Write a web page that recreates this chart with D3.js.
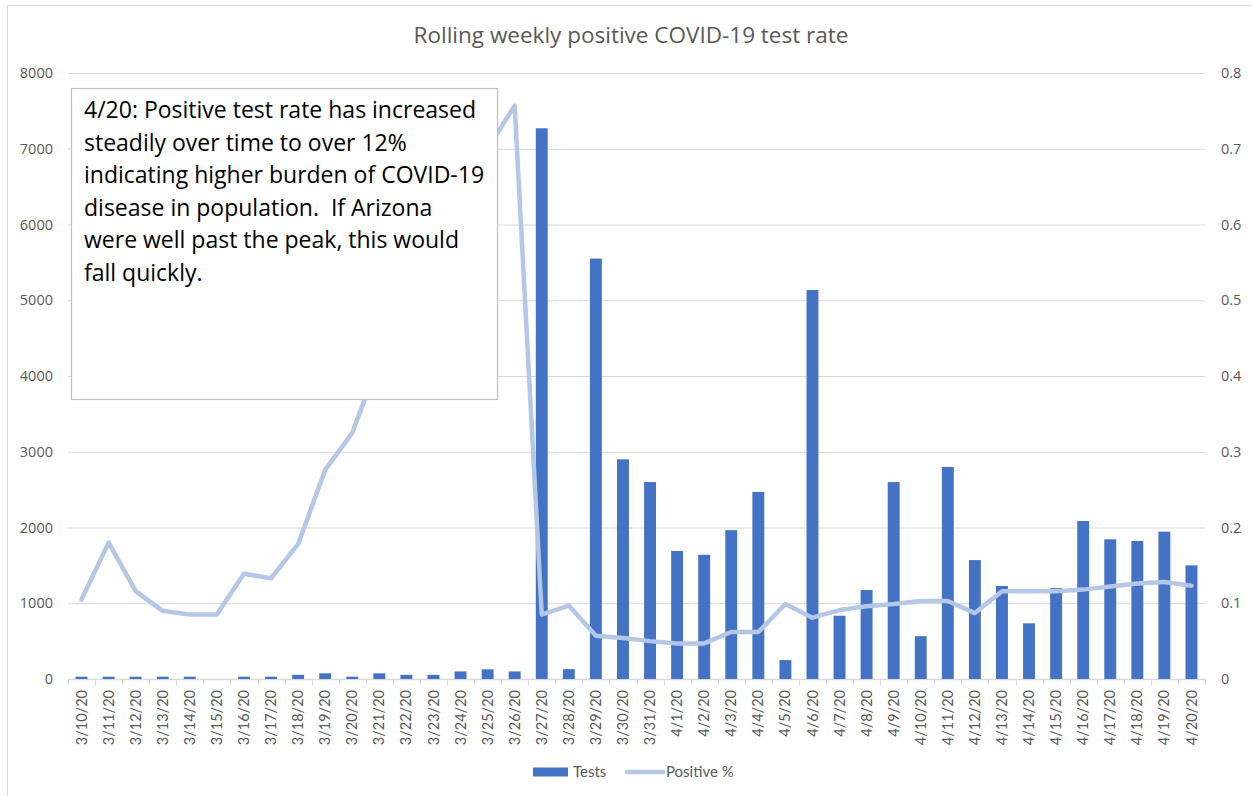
<!DOCTYPE html>
<html>
<head>
<meta charset="utf-8">
<script src="https://cdn.jsdelivr.net/npm/d3@7"></script>
<style>
  html, body { margin: 0; padding: 0; background: #fff; }
  svg { display: block; }
  text { font-family: Lato, "Open Sans", sans-serif; }
</style>
</head>
<body>
<svg id="chart" width="1252" height="796"></svg>
<script>
// Daily test counts and rolling weekly positive rate, Arizona, 3/10/20 – 4/20/20
const dates = [
  "3/10/20","3/11/20","3/12/20","3/13/20","3/14/20","3/15/20","3/16/20","3/17/20",
  "3/18/20","3/19/20","3/20/20","3/21/20","3/22/20","3/23/20","3/24/20","3/25/20",
  "3/26/20","3/27/20","3/28/20","3/29/20","3/30/20","3/31/20","4/1/20","4/2/20",
  "4/3/20","4/4/20","4/5/20","4/6/20","4/7/20","4/8/20","4/9/20","4/10/20",
  "4/11/20","4/12/20","4/13/20","4/14/20","4/15/20","4/16/20","4/17/20","4/18/20",
  "4/19/20","4/20/20"
];
const tests = [
  30, 30, 30, 30, 30, 0, 30, 30,
  55, 75, 30, 75, 55, 55, 100, 128,
  100, 7270, 130, 5550, 2900, 2600, 1690, 1640,
  1965, 2470, 250, 5135, 835, 1175, 2600, 565,
  2800, 1570, 1228, 735, 1200, 2086, 1844, 1822,
  1945, 1500
];
const positiveRate = [
  0.105, 0.180, 0.116, 0.090, 0.085, 0.085, 0.139, 0.133,
  0.178, 0.276, 0.325, 0.420, 0.500, 0.580, 0.640, 0.700,
  0.757, 0.085, 0.097, 0.057, 0.054, 0.050, 0.047, 0.047,
  0.062, 0.062, 0.099, 0.081, 0.091, 0.096, 0.099, 0.103,
  0.103, 0.087, 0.116, 0.116, 0.116, 0.118, 0.122, 0.126,
  0.128, 0.123
];
const testTicks = [0, 1000, 2000, 3000, 4000, 5000, 6000, 7000, 8000];
const rateTicks = [0, 0.1, 0.2, 0.3, 0.4, 0.5, 0.6, 0.7, 0.8];
const chartTitle = "Rolling weekly positive COVID-19 test rate";
const noteLines = [
  "4/20: Positive test rate has increased",
  "steadily over time to over 12%",
  "indicating higher burden of COVID-19",
  "disease in population.  If Arizona",
  "were well past the peak, this would",
  "fall quickly."
];
const seriesNames = ["Tests", "Positive %"];

const svg = d3.select("#chart");
const plot = { left: 68, right: 1205, top: 73, bottom: 679 };
const gridColor = "#d9d9d9";
const labelColor = "#595959";
const barColor = "#4472c4";
const lineColor = "#b4c7e7";

// outer chart frame
svg.append("rect")
  .attr("x", 7.5).attr("y", 5.5)
  .attr("width", 1400).attr("height", 1000)
  .attr("fill", "none").attr("stroke", gridColor).attr("stroke-width", 1);

const x = d3.scaleBand()
  .domain(dates)
  .range([plot.left, plot.right])
  .paddingInner(0.56)
  .paddingOuter(0.28);
const yTests = d3.scaleLinear().domain([0, 8000]).range([plot.bottom, plot.top]);
const yRate = d3.scaleLinear().domain([0, 0.8]).range([plot.bottom, plot.top]);

// left axis with horizontal gridlines
const leftAxis = svg.append("g")
  .attr("transform", `translate(${plot.left},0)`)
  .call(d3.axisLeft(yTests).tickValues(testTicks)
    .tickSize(-(plot.right - plot.left)).tickPadding(15).tickFormat(d3.format("d")));
leftAxis.select(".domain").remove();
leftAxis.selectAll(".tick line").attr("stroke", gridColor).attr("stroke-width", 1);
leftAxis.selectAll(".tick text")
  .attr("fill", labelColor).style("font-family", "'Open Sans', sans-serif").style("font-size", "14.5px");

// right axis (rate)
const rightAxis = svg.append("g")
  .attr("transform", `translate(${plot.right},0)`)
  .call(d3.axisRight(yRate).tickValues(rateTicks).tickSize(0).tickPadding(16)
    .tickFormat(d => d === 0 ? "0" : d3.format(".1f")(d)));
rightAxis.select(".domain").remove();
rightAxis.selectAll(".tick text")
  .attr("fill", labelColor).style("font-family", "'Open Sans', sans-serif").style("font-size", "14.5px");

// category axis
const bottomAxis = svg.append("g")
  .attr("transform", `translate(0,${plot.bottom})`)
  .call(d3.axisBottom(x).tickSize(0));
bottomAxis.select(".domain").remove();
bottomAxis.selectAll(".tick text")
  .attr("transform", "rotate(-90)")
  .attr("x", -11).attr("y", 0).attr("dy", "0.35em")
  .attr("text-anchor", "end")
  .attr("fill", labelColor).style("font-size", "14.5px");

// axis baseline and tick marks between categories
svg.append("line")
  .attr("x1", plot.left).attr("x2", plot.right)
  .attr("y1", plot.bottom + 0.5).attr("y2", plot.bottom + 0.5)
  .attr("stroke", gridColor).attr("stroke-width", 1.5);
const step = x.step();
const boundaries = d3.range(dates.length + 1).map(i => x(dates[0]) - step * x.paddingInner() / 2 + i * step);
svg.append("g").selectAll("line")
  .data(boundaries)
  .join("line")
  .attr("x1", d => Math.round(d) + 0.5).attr("x2", d => Math.round(d) + 0.5)
  .attr("y1", plot.bottom).attr("y2", plot.bottom + 6)
  .attr("stroke", gridColor).attr("stroke-width", 1);

// bars: daily tests
svg.append("g").selectAll("rect")
  .data(dates.map((d, i) => ({ date: d, value: tests[i] })))
  .join("rect")
  .attr("x", d => x(d.date))
  .attr("width", x.bandwidth())
  .attr("y", d => yTests(d.value))
  .attr("height", d => yTests(0) - yTests(d.value))
  .attr("fill", barColor);

// line: rolling weekly positive rate
const rateLine = d3.line()
  .x(d => x(d.date) + x.bandwidth() / 2)
  .y(d => yRate(d.value));
svg.append("path")
  .datum(dates.map((d, i) => ({ date: d, value: positiveRate[i] })))
  .attr("d", rateLine)
  .attr("fill", "none")
  .attr("stroke", lineColor)
  .attr("stroke-width", 4.5)
  .attr("stroke-linejoin", "round")
  .attr("stroke-linecap", "round");

// title
svg.append("text")
  .attr("x", 631).attr("y", 43)
  .attr("text-anchor", "middle")
  .attr("fill", labelColor)
  .style("font-family", "'Open Sans', sans-serif")
  .style("font-size", "22.5px")
  .text(chartTitle);

// annotation box
const note = svg.append("g");
note.append("rect")
  .attr("x", 71.5).attr("y", 88.5)
  .attr("width", 426).attr("height", 311)
  .attr("fill", "#fff").attr("stroke", "#bfbfbf").attr("stroke-width", 1.2);
note.append("text")
  .attr("fill", "#000")
  .style("font-family", "'Open Sans', sans-serif")
  .style("font-size", "23px")
  .style("white-space", "pre")
  .selectAll("tspan")
  .data(noteLines)
  .join("tspan")
  .attr("x", 84)
  .attr("y", (d, i) => 118 + i * 32.5)
  .text(d => d);

// legend
const legend = svg.append("g").attr("transform", "translate(0,772)");
legend.append("rect")
  .attr("x", 533).attr("y", -4.5).attr("width", 35).attr("height", 9)
  .attr("fill", barColor);
legend.append("text")
  .attr("x", 573).attr("y", 0).attr("dy", "0.35em")
  .attr("fill", labelColor).style("font-size", "15px")
  .text(seriesNames[0]);
legend.append("line")
  .attr("x1", 627).attr("x2", 663).attr("y1", 0).attr("y2", 0)
  .attr("stroke", lineColor).attr("stroke-width", 4.5).attr("stroke-linecap", "round");
legend.append("text")
  .attr("x", 666).attr("y", 0).attr("dy", "0.35em")
  .attr("fill", labelColor).style("font-size", "15px")
  .text(seriesNames[1]);
</script>
</body>
</html>
